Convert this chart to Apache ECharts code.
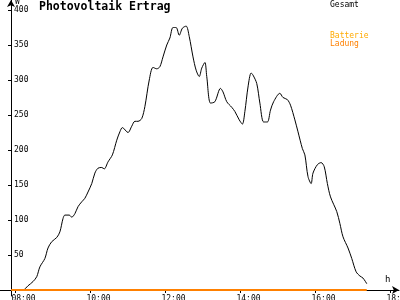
<!DOCTYPE html>
<html>
<head>
<meta charset="utf-8">
<script src="https://cdn.jsdelivr.net/npm/echarts@6/dist/echarts.min.js"></script>
<style>html,body{margin:0;padding:0;background:#fff}#c{width:400px;height:300px}</style>
</head>
<body>
<div id="c"></div>
<script>
// Data
const gesamtTimes = ["08:00","08:12","08:20","08:28","08:34","08:39","08:47","08:52","08:58","09:06","09:11","09:16","09:19","09:26","09:30","09:35","09:40","09:46","09:51","09:56","10:02","10:07","10:12","10:18","10:22","10:28","10:35","10:42","10:47","10:51","11:00","11:06","11:11","11:16","11:22","11:27","11:34","11:40","11:46","11:51","11:56","12:02","12:07","12:12","12:17","12:22","12:27","12:33","12:38","12:44","12:49","12:54","12:58","13:03","13:06","13:12","13:19","13:28","13:32","13:38","13:46","13:51","13:58","14:03","14:07","14:12","14:17","14:20","14:26","14:31","14:37","14:43","14:48","14:53","15:03","15:08","15:15","15:20","15:27","15:32","15:39","15:43","15:48","15:53","15:56","16:03","16:09","16:14","16:19","16:24","16:34","16:39","16:44","16:52","16:58","17:05","17:11","17:16","17:22"];
const gesamtValues = [0,0,6,12,19,33,45,60,69,75,83,102,107,107,104,109,119,126,131,140,152,167,174,175,173,183,193,214,226,232,225,234,241,241,245,262,300,318,316,319,333,350,360,375,375,364,374,377,362,333,314,305,317,325,305,267,269,288,283,269,261,255,243,237,255,290,310,307,295,267,240,240,257,269,281,275,272,264,243,226,202,193,162,152,167,179,182,176,152,133,112,95,76,60,45,26,20,17,9];
const ladungTimes = ["07:53","17:22"];
const ladungValues = [0,0];
const batterieTimes = [];
const batterieValues = [];
const xTickLabels = ["08:00","10:00","12:00","14:00","16:00","18:00"];
const yTickValues = [50,100,150,200,250,300,350,400];

const toMin = s => { const p = s.split(":"); return (+p[0]) * 60 + (+p[1]); };
const pad2 = n => (n < 10 ? "0" : "") + n;
const fmt = m => pad2(Math.floor(m / 60)) + ":" + pad2(Math.round(m % 60));
const pairs = (t, v) => t.map((s, i) => [toMin(s), v[i]]);

const FONT = "DejaVu Sans Mono";
const chart = echarts.init(document.getElementById("c"), null, {renderer: "canvas"});
chart.setOption({
  animation: false,
  backgroundColor: "#fff",
  title: {
    text: "Photovoltaik Ertrag",
    left: 39, top: 1, padding: 0,
    textStyle: {fontFamily: FONT, fontSize: 11.5, fontWeight: "bold", color: "#000"}
  },
  legend: [
    {
      left: 325, top: 0, padding: 0, icon: "none", itemWidth: 0, itemHeight: 0,
      selectedMode: false,
      data: [{name: "Gesamt", textStyle: {color: "#000"}}],
      textStyle: {fontFamily: FONT, fontSize: 8, lineHeight: 9}
    },
    {
      left: 325, top: 32, padding: 0, orient: "vertical", itemGap: 0,
      icon: "none", itemWidth: 0, itemHeight: 0, selectedMode: false,
      data: [{name: "Batterie", textStyle: {color: "#ffaa00"}},
             {name: "Ladung", textStyle: {color: "#ff8000"}}],
      textStyle: {fontFamily: FONT, fontSize: 8, lineHeight: 8}
    }
  ],
  grid: {left: 0, right: 1, top: 0, bottom: 4, containLabel: false, outerBoundsMode: "none"},
  xAxis: {
    type: "value",
    min: 455.2, max: 1093.6,
    name: "h", nameLocation: "end", nameGap: -14,
    nameTextStyle: {fontFamily: FONT, fontSize: 9, color: "#000", align: "left", verticalAlign: "bottom", padding: [0, 0, 6, 0]},
    axisLine: {onZero: true, lineStyle: {color: "#000", width: 1}, symbol: ["none", "arrow"], symbolSize: [6, 7]},
    axisTick: {show: true, length: 3, lineStyle: {color: "#000"}, customValues: xTickLabels.map(toMin)},
    axisLabel: {
      customValues: xTickLabels.map(toMin),
      formatter: v => fmt(v),
      fontFamily: FONT, fontSize: 8, lineHeight: 8, color: "#000", margin: -1,
      align: "center", padding: [0, 0, 0, 16],
      hideOverlap: false
    },
    splitLine: {show: false}
  },
  yAxis: {
    type: "value",
    min: -8.6, max: 414.3,
    offset: -11,
    name: "W", nameLocation: "end", nameGap: -8,
    nameTextStyle: {fontFamily: FONT, fontSize: 8, color: "#000", align: "left", verticalAlign: "bottom", padding: [0, 0, 0, 4]},
    axisLine: {show: true, lineStyle: {color: "#000", width: 1}, symbol: ["none", "arrow"], symbolSize: [6, 7]},
    axisTick: {show: true, length: 3, lineStyle: {color: "#000"}, customValues: yTickValues},
    axisLabel: {
      customValues: yTickValues, inside: true, margin: 3,
      fontFamily: FONT, fontSize: 8, color: "#000"
    },
    splitLine: {show: false}
  },
  series: [
    {
      name: "Gesamt", type: "line", data: pairs(gesamtTimes, gesamtValues),
      showSymbol: false, symbol: "none", smooth: 0.3,
      lineStyle: {color: "#000", width: 1}, itemStyle: {color: "#000"}, z: 3
    },
    {
      name: "Batterie", type: "line", data: pairs(batterieTimes, batterieValues),
      showSymbol: false, symbol: "none",
      lineStyle: {color: "#ffaa00", width: 1}, itemStyle: {color: "#ffaa00"}
    },
    {
      name: "Ladung", type: "line", data: pairs(ladungTimes, ladungValues),
      showSymbol: false, symbol: "none",
      lineStyle: {color: "#ff8000", width: 2}, itemStyle: {color: "#ff8000"}, z: 4
    }
  ]
});
</script>
</body>
</html>
